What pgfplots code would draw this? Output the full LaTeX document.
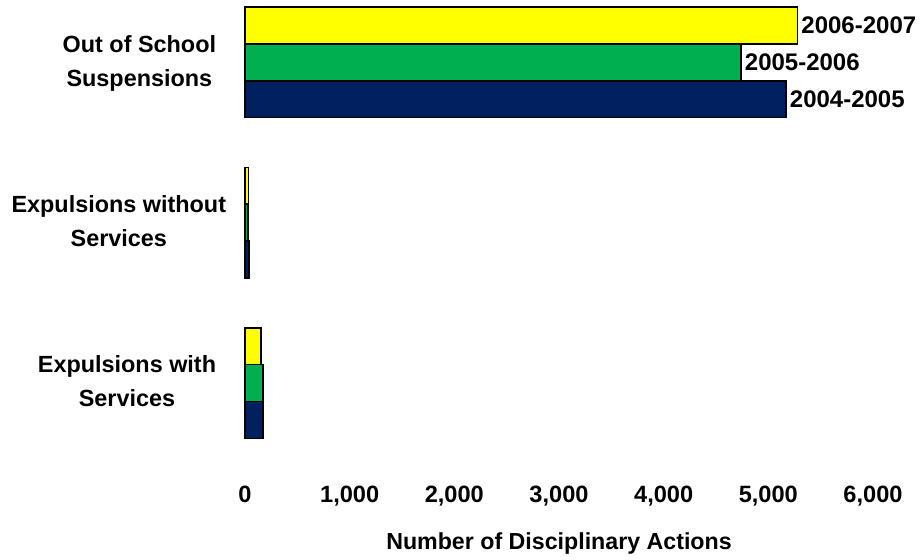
\documentclass[border=0pt]{standalone}
\usepackage{pgfplots}
\pgfplotsset{compat=1.18}
\usepackage{fontspec}
\setmainfont{Liberation Sans}
\definecolor{cyellow}{HTML}{FFFF00}
\definecolor{cgreen}{HTML}{00B050}
\definecolor{cnavy}{HTML}{002060}
\newcommand{\lab}[2]{\begin{tabular}{@{}c@{}}#1\end{tabular}\hspace*{#2}}
\begin{document}
\begin{tikzpicture}
\begin{axis}[
  scale only axis,
  width=314pt, height=228pt,
  xmin=0, xmax=6000, ymin=-0.449, ymax=2.395,
  xbar, bar width=0.23,
  axis line style={draw=none},
  tick style={draw=none},
  xtick={0,1000,...,6000},
  scaled x ticks=false,
  /pgf/number format/.cd, 1000 sep={,}, assume math mode=true,
  /pgfplots/.cd,
  ytick={0,1,2},
  yticklabels={\lab{Expulsions with\\Services}{7pt},\lab{Expulsions without\\Services}{2pt},\lab{Out of School\\Suspensions}{7pt}},
  yticklabel style={font=\fontsize{11.7}{17}\selectfont\bfseries, inner sep=0pt, xshift=-3pt},
  xticklabel style={font=\fontsize{11.8}{14}\selectfont\bfseries, yshift=-12pt},
  xlabel={Number of Disciplinary Actions},
  xlabel style={font=\fontsize{11.6}{14}\selectfont\bfseries, at={(axis description cs:0.5,0)}, anchor=center, yshift=-44pt},
  clip=false,
  point meta=explicit symbolic,
  nodes near coords,
  nodes near coords style={font=\fontsize{12}{14}\selectfont\bfseries, anchor=west, inner sep=1.5pt},
]
\addplot[fill=cnavy, draw=black, line width=0.8pt, bar shift=-0.23] coordinates {(170,0) [] (40,1) [] (5170,2) [2004-2005]};
\addplot[fill=cgreen, draw=black, line width=0.8pt, bar shift=0] coordinates {(170,0) [] (30,1) [] (4740,2) [2005-2006]};
\addplot[fill=cyellow, draw=black, line width=0.8pt, bar shift=0.23] coordinates {(155,0) [] (35,1) [] (5280,2) [2006-2007]};
\end{axis}
\pgfresetboundingbox
\path[use as bounding box] (-122.5pt,-52pt) rectangle (339.5pt,227.5pt);
\end{tikzpicture}
\end{document}
